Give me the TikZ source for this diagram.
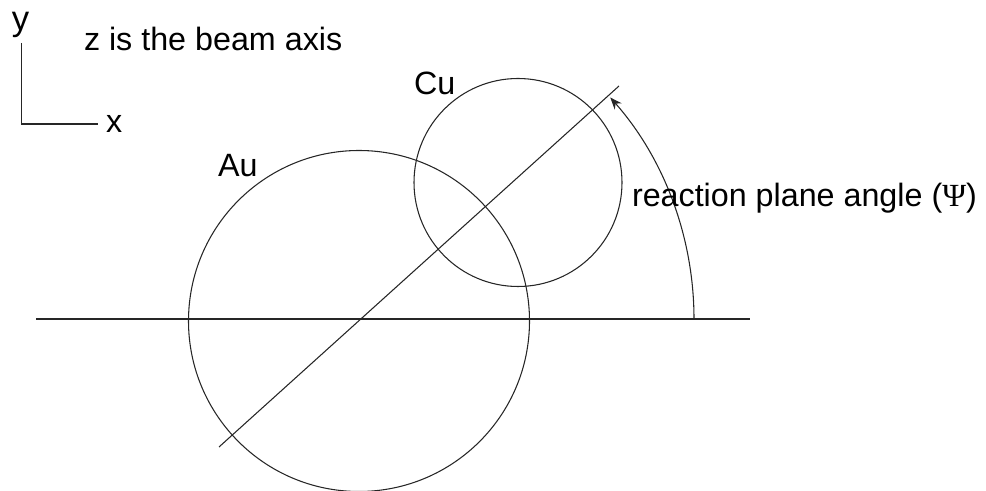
\documentclass[tikz,border=0pt]{standalone}
\usepackage{fontspec}
\setmainfont{Liberation Sans}
\newfontfamily\psifont{Liberation Serif}
\usetikzlibrary{arrows.meta}
\begin{document}
\begin{tikzpicture}[x=0.75pt,y=0.75pt,
  every node/.style={inner sep=0pt,outer sep=0pt,anchor=base west,font=\fontsize{24.2}{28}\selectfont},
  thin line/.style={line width=0.8pt,draw=black!85}]
\useasboundingbox (0,0) rectangle (986,-491);
% axes
\coordinate (ytop) at (21.5,-43);
\coordinate (orig) at (21.5,-124);
\coordinate (xend) at (98,-124);
\draw[thin line] (ytop) -- (orig) -- (xend);
\node[font=\fontsize{26}{30}\selectfont] (ylab) at (12,-31) {y};
\node (xlab) at (106,-133) {x};
\node (zlab) at (84,-51) {z is the beam axis};
% circles
\coordinate (au) at (359,-321);
\coordinate (cu) at (518,-182.5);
\draw[thin line] (au) circle[radius=170.5];
\draw[thin line] (cu) circle[radius=104];
\node (aulab) at (218,-177) {Au};
\node (culab) at (414,-95) {Cu};
% horizontal line
\coordinate (hl) at (36,-319);
\coordinate (hr) at (750,-319);
\draw[thin line] (hl) -- (hr);
% reaction plane line
\coordinate (pl) at (219,-447);
\coordinate (pr) at (619,-86);
\draw[thin line] (pl) -- (pr);
% angle arc
\coordinate (arcstart) at (694,-319);
\draw[thin line,-{Stealth[length=9pt,width=7pt]}] (arcstart) arc[start angle=0,end angle=41.4,radius=335];
\node (rplab) at (632,-207) {reaction plane angle ({\psifont Ψ})};
\end{tikzpicture}
\end{document}
